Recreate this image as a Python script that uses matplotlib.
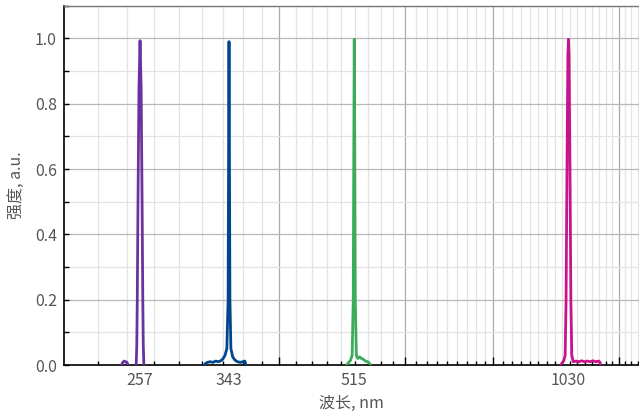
import numpy as np
import matplotlib
matplotlib.use("Agg")
import matplotlib.pyplot as plt
from matplotlib.ticker import FixedLocator, NullLocator, MultipleLocator, NullFormatter

plt.rcParams['font.family'] = ['Noto Sans CJK SC', 'DejaVu Sans']

# ---- data ----
wl_257 = [238, 240, 242, 243.2, 244.5, 246, 247.2, 248.5, 251, 253.3, 254.3, 254.8, 255.2, 255.8,
          256.6, 257.5, 258.4, 259.2, 259.8, 260.2, 260.7, 262, 265]
int_257 = [-0.01, -0.006, -0.004, 0.006, 0.012, 0.01, 0.004, -0.006, -0.008, -0.004, 0.0, 0.06, 0.2, 0.5,
           0.85, 0.993, 0.85, 0.5, 0.2, 0.06, 0.0, -0.005, -0.008]

wl_343 = [316, 318, 320, 323, 326, 329, 332, 335, 337, 339, 341, 342.4, 343.0, 343.4, 343.8, 344.4,
          345.5, 347.5, 350, 353, 356, 359, 361.5, 363, 366]
int_343 = [-0.01, 0.004, 0.008, 0.01, 0.008, 0.012, 0.01, 0.014, 0.02, 0.03, 0.05, 0.2, 0.7, 0.99, 0.7, 0.2,
           0.05, 0.025, 0.015, 0.01, 0.008, 0.01, 0.012, -0.005, -0.01]

wl_515 = [500, 503, 506, 509, 511.5, 513.3, 514.3, 515, 515.7, 516.7, 518.5, 521, 524, 527, 530, 534,
          538, 542, 545]
int_515 = [-0.01, 0.002, 0.008, 0.015, 0.03, 0.2, 0.7, 0.997, 0.7, 0.2, 0.03, 0.02, 0.025, 0.02, 0.018, 0.012,
           0.01, 0.003, -0.01]

wl_1030 = [1000, 1008, 1014, 1019, 1022, 1025, 1028, 1030, 1032, 1035, 1038, 1041, 1046, 1055, 1065,
           1075, 1085, 1095, 1105, 1115, 1125, 1135, 1141, 1145]
int_1030 = [-0.01, 0.005, 0.012, 0.03, 0.2, 0.6, 0.95, 0.997, 0.95, 0.6, 0.2, 0.03, 0.01, 0.012, 0.01,
            0.013, 0.01, 0.012, 0.01, 0.013, 0.01, 0.012, 0.008, -0.01]

series = [
    (wl_257, int_257, '#6a329f'),
    (wl_343, int_343, '#00468c'),
    (wl_515, int_515, '#3cab5a'),
    (wl_1030, int_1030, '#c8148c'),
]

label_ticks = [257, 343, 515, 1030]
label_texts = ['257', '343', '515', '1030']
grid_major_x = [404, 606, 808, 1212]
grid_minor_x = list(np.arange(202 + 202 / 9, 808, 202 / 9)) + list(np.arange(808, 1330, 25.25))

x_label = '波长, nm'
y_label = '强度, a.u.'

# ---- figure ----
fig = plt.figure(figsize=(6.39, 4.17), dpi=100)
ax = fig.add_axes([63.8 / 639, 52 / 417, 575.2 / 639, 359.3 / 417])

for x, y, c in series:
    ax.plot(x, y, color=c, lw=2.0, solid_joinstyle='round', zorder=3)

ax.set_xscale('log')
ax.set_xlim(201.2, 1294)
ax.set_ylim(0, 1.1)

ax.xaxis.set_major_locator(FixedLocator(grid_major_x))
ax.xaxis.set_minor_locator(FixedLocator(grid_minor_x))
ax.xaxis.set_major_formatter(NullFormatter())
ax.xaxis.set_minor_formatter(NullFormatter())
ax.yaxis.set_major_locator(MultipleLocator(0.2))
ax.yaxis.set_minor_locator(MultipleLocator(0.1))
ax.set_yticks([0.0, 0.2, 0.4, 0.6, 0.8, 1.0])
ax.set_yticklabels(['0.0', '0.2', '0.4', '0.6', '0.8', '1.0'])

ax.grid(which='major', axis='x', color='#a9a9a9', lw=0.9)
ax.grid(which='minor', axis='x', color='#e3e3e3', lw=0.9)
ax.grid(which='major', axis='y', color='#b8b8b8', lw=0.9)
ax.grid(which='minor', axis='y', color='#e3e3e3', lw=0.9)
ax.set_axisbelow(True)

ax.tick_params(axis='x', which='major', direction='in', length=5.5, width=1.0, color='black')
ax.tick_params(axis='x', which='minor', direction='in', length=2.8, width=1.0, color='black')
ax.tick_params(axis='y', which='both', direction='in', length=3.5, width=1.0, color='black',
               labelsize=11.5, labelcolor='#555555', pad=5)

for s in ['left', 'bottom']:
    ax.spines[s].set_color('black')
    ax.spines[s].set_linewidth(1.2)
ax.spines['top'].set_color('#777777')
ax.spines['top'].set_linewidth(1.0)
ax.spines['right'].set_visible(False)

sec = ax.secondary_xaxis('bottom')
sec.set_xticks(label_ticks)
sec.set_xticklabels(label_texts)
sec.xaxis.set_minor_locator(NullLocator())
sec.tick_params(axis='x', length=0, labelsize=11.5, labelcolor='#555555', pad=5)
sec.spines['bottom'].set_visible(False)
sec.set_xlabel(x_label, fontsize=11.5, color='#555555', labelpad=4)

ax.set_ylabel(y_label, fontsize=11.5, color='#555555', labelpad=7)

fig.savefig('out.png', dpi=100)
